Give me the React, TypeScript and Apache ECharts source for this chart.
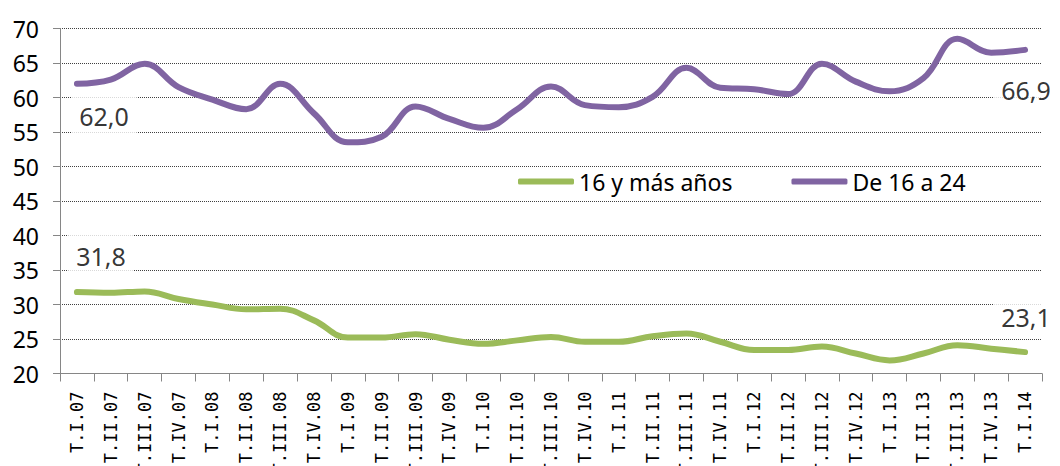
import React, { useEffect, useRef } from "react";
import * as echarts from "echarts";

const categories: string[] = [
  "T.I.07", "T.II.07", "T.III.07", "T.IV.07",
  "T.I.08", "T.II.08", "T.III.08", "T.IV.08",
  "T.I.09", "T.II.09", "T.III.09", "T.IV.09",
  "T.I.10", "T.II.10", "T.III.10", "T.IV.10",
  "T.I.11", "T.II.11", "T.III.11", "T.IV.11",
  "T.I.12", "T.II.12", "T.III.12", "T.IV.12",
  "T.I.13", "T.II.13", "T.III.13", "T.IV.13",
  "T.I.14",
];

const total16: number[] = [
  31.8, 31.7, 31.9, 30.8, 30.0, 29.3, 29.4, 27.7,
  25.2, 25.2, 25.7, 24.9, 24.3, 24.8, 25.3, 24.6,
  24.6, 25.4, 25.8, 24.6, 23.4, 23.4, 23.9, 22.9,
  21.9, 22.9, 24.1, 23.6, 23.1,
];

const de16a24: number[] = [
  62.0, 62.6, 64.9, 61.5, 59.7, 58.3, 62.0, 57.7,
  53.5, 54.3, 58.7, 56.9, 55.6, 58.3, 61.6, 58.9,
  58.6, 60.1, 64.3, 61.4, 61.2, 60.5, 64.9, 62.3,
  60.9, 62.8, 68.5, 66.5, 66.9,
];

const seriesNames: string[] = ["16 y más años", "De 16 a 24"];

const GREEN = "#9BBB59";
const PURPLE = "#8064A2";
const LABEL_FONT = "'Noto Sans', sans-serif";

const fmt = (v: number) => v.toFixed(1).replace(".", ",");

export default function App() {
  const ref = useRef<HTMLDivElement>(null);

  useEffect(() => {
    if (!ref.current) return;
    const chart = echarts.init(ref.current, undefined, { renderer: "svg" });
    const last = categories.length - 1;

    const lbl = (offset: number[], lineHeight: number, padding: number[]) => ({
      show: true,
      position: "inside",
      offset,
      formatter: (p: any) => fmt(p.value[1]),
      color: "#000",
      fontFamily: LABEL_FONT,
      fontSize: 25,
      lineHeight,
      backgroundColor: "#fff",
      padding,
    });

    chart.setOption({
      animation: false,
      backgroundColor: "#fff",
      grid: {
        left: 60,
        right: 18,
        top: 28.5,
        bottom: 92.5,
        containLabel: false,
        outerBoundsMode: "none",
      },
      legend: {
        data: seriesNames,
        left: 518,
        top: 170,
        padding: 0,
        itemWidth: 56,
        itemHeight: 6,
        itemGap: 59,
        icon: "roundRect",
        textStyle: { fontFamily: LABEL_FONT, fontSize: 23, color: "#000" },
      },
      xAxis: {
        type: "category",
        data: categories,
        boundaryGap: true,
        axisLine: { lineStyle: { color: "#868686", width: 1 } },
        axisTick: { show: true, interval: 0, length: 8, lineStyle: { color: "#868686" } },
        axisLabel: {
          interval: 0,
          rotate: 90,
          margin: 18,
          color: "#000",
          fontFamily: "'DejaVu Sans Mono', monospace",
          fontSize: 17,
        },
        splitLine: { show: false },
      },
      yAxis: {
        type: "value",
        min: 20,
        max: 70,
        interval: 5,
        axisLine: { show: true, lineStyle: { color: "#868686", width: 1 } },
        axisTick: { show: true, length: 7, lineStyle: { color: "#868686" } },
        axisLabel: {
          margin: 21,
          color: "#000",
          fontFamily: LABEL_FONT,
          fontSize: 23,
        },
        splitLine: { show: true, lineStyle: { color: "#404040", width: 1, type: [1, 1] } },
      },
      series: [
        {
          name: seriesNames[0],
          type: "line",
          data: total16,
          smooth: 0.4,
          showSymbol: false,
          symbol: "none",
          lineStyle: { color: GREEN, width: 6, cap: "round", join: "round" },
          itemStyle: { color: GREEN },
          z: 3,
        },
        {
          name: seriesNames[1],
          type: "line",
          data: de16a24,
          smooth: 0.4,
          showSymbol: false,
          symbol: "none",
          lineStyle: { color: PURPLE, width: 6, cap: "round", join: "round" },
          itemStyle: { color: PURPLE },
          z: 3,
        },
        {
          name: "labels",
          type: "scatter",
          symbolSize: 1,
          itemStyle: { color: "rgba(0,0,0,0)" },
          silent: true,
          z: 5,
          data: [
            { value: [0, de16a24[0]], label: lbl([27, 32], 28, [8, 8]) },
            { value: [last, de16a24[last]], label: lbl([1, 40], 28, [4, 8]) },
            { value: [0, total16[0]], label: lbl([24, -36], 28, [8, 8]) },
            { value: [last, total16[last]], label: lbl([1, -35], 28, [0, 8]) },
          ],
        },
      ],
    });

    return () => chart.dispose();
  }, []);

  return (
    <div
      ref={ref}
      style={{ position: "absolute", left: 0, top: 0, width: 1060, height: 466, background: "#fff" }}
    />
  );
}
